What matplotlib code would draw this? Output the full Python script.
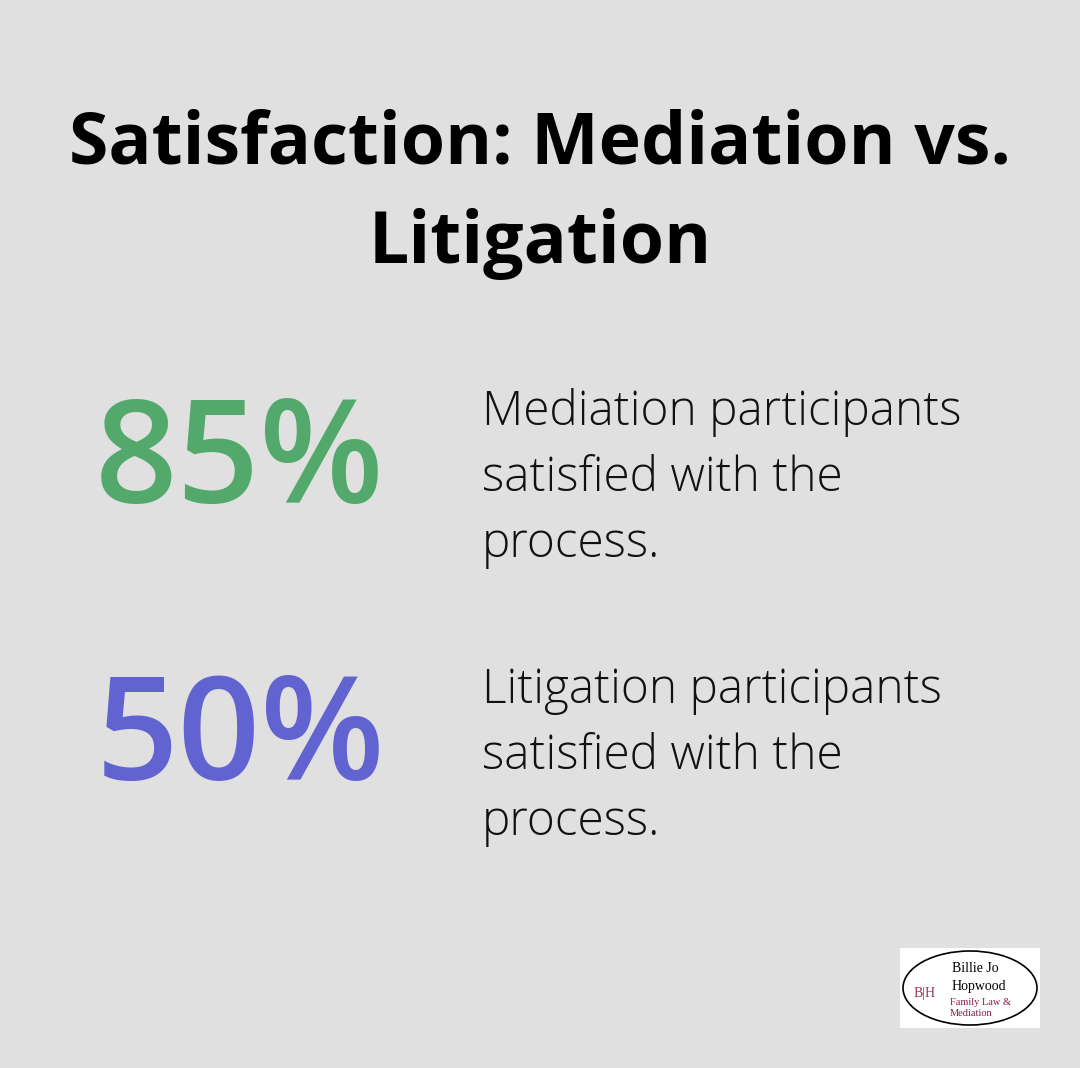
import matplotlib
matplotlib.use("Agg")
import matplotlib.pyplot as plt
from matplotlib.patches import Ellipse, Rectangle

title_lines = ["Satisfaction: Mediation vs.", "Litigation"]
values = ["85%", "50%"]
descriptions = [["Mediation participants", "satisfied with the", "process."],
                ["Litigation participants", "satisfied with the", "process."]]
colors = ["#52a96b", "#6163d0"]

W, H = 1080, 1068
fig = plt.figure(figsize=(W/100, H/100), dpi=100)
fig.patch.set_facecolor("#dfe0df")
ax = fig.add_axes([0, 0, 1, 1])
ax.set_xlim(0, W); ax.set_ylim(H, 0); ax.axis("off")

fam = ["Open Sans", "DejaVu Sans"]
for i, t in enumerate(title_lines):
    ax.text(540, 163 + i*100, t, ha="center", va="baseline", fontsize=51.5,
            fontweight="bold", family=fam, color="black")

num_base = [503, 780]
txt_base = [425, 703]
for v, d, c, nb, tb in zip(values, descriptions, colors, num_base, txt_base):
    ax.text(240, nb, v, ha="center", va="baseline", fontsize=104,
            fontweight="semibold", family=fam, color=c)
    for j, line in enumerate(d):
        ax.text(482, tb + j*66, line, ha="left", va="baseline", fontsize=34.4,
                fontweight="light", family=fam, color="#111111")

# logo
ax.add_patch(Rectangle((900, 948), 140, 80, facecolor="white", edgecolor="none"))
ax.add_patch(Ellipse((970, 988), 134, 74, facecolor="none", edgecolor="black", lw=1.2))
ax.text(925, 993, "B|H", fontsize=10, family="Liberation Serif", color="#a0305a", ha="center", va="center")
ax.text(952, 972, "Billie Jo", fontsize=10, family="Liberation Serif", color="black", va="baseline")
ax.text(952, 990, "Hopwood", fontsize=10, family="Liberation Serif", color="black", va="baseline")
ax.text(950, 1005, "Family Law &", fontsize=7.5, family="Liberation Serif", color="#8b1a4a", va="baseline")
ax.text(950, 1016, "Mediation", fontsize=7.5, family="Liberation Serif", color="#8b1a4a", va="baseline")

fig.savefig("out.png", dpi=100, facecolor=fig.get_facecolor())
